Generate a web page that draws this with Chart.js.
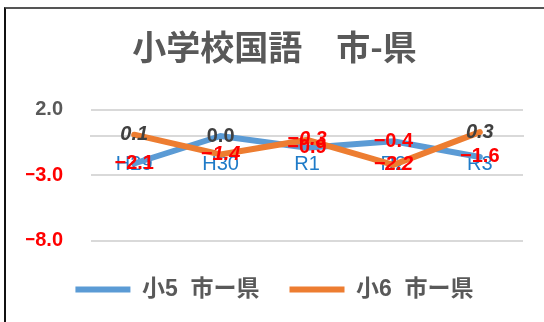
<!DOCTYPE html>
<html>
<head>
<meta charset="utf-8">
<script src="https://cdn.jsdelivr.net/npm/chart.js@4"></script>
<style>
  body { margin: 0; width: 544px; height: 322px; overflow: hidden; background: #fff; position: relative; }
  #wrap { position: absolute; left: 0; top: 0; width: 544px; height: 322px; }
  #frame { position: absolute; left: 4px; top: 7px; width: 700px; height: 400px;
           border-left: 2px solid #111; border-top: 2px solid #555; pointer-events: none; }
</style>
</head>
<body>
<div id="wrap"><canvas id="grafico" width="544" height="322"></canvas></div>
<div id="frame"></div>
<script>
// dados do gráfico
var categories = ['H29', 'H30', 'R1', 'R2', 'R3'];
var grade5 = [-2.1, 0.0, -0.9, -0.4, -1.6];
var grade6 = [0.1, -1.4, -0.3, -2.2, 0.3];
var yTicks = [2, -3, -8];
var seriesNames = ['小5  市ー県', '小6  市ー県'];

var FONT = '"Liberation Sans", "Noto Sans CJK JP", sans-serif';

function fmt(v) {
    return v.toFixed(1).replace('-', '\u2212');
}

// rótulos de valor em cima de cada ponto
var valueLabels = {
    id: 'valueLabels',
    afterDatasetsDraw: function(chart) {
        var ctx = chart.ctx;
        chart.data.datasets.forEach(function(ds, i) {
            var meta = chart.getDatasetMeta(i);
            meta.data.forEach(function(pt, j) {
                var v = ds.data[j];
                ctx.save();
                ctx.font = (i === 1 ? 'italic ' : '') + 'bold 20px ' + FONT;
                ctx.fillStyle = v < 0 ? '#FF0000' : '#404040';
                ctx.textAlign = 'center';
                ctx.textBaseline = 'middle';
                ctx.fillText(fmt(v), pt.x, pt.y);
                ctx.restore();
            });
        });
    }
};

var data = {
    labels: categories,
    datasets: [{
        label: seriesNames[0],
        data: grade5,
        borderColor: '#5B9BD5',
        backgroundColor: '#5B9BD5',
        borderWidth: 6,
        borderCapStyle: 'round',
        pointRadius: 0,
        order: 2
    }, {
        label: seriesNames[1],
        data: grade6,
        borderColor: '#ED7D31',
        backgroundColor: '#ED7D31',
        borderWidth: 6,
        borderCapStyle: 'round',
        pointRadius: 0,
        order: 1
    }]
};

var options = {
    responsive: false,
    animation: false,
    layout: { padding: { left: 26, right: 21, top: 0, bottom: 11 } },
    scales: {
        x: {
            offset: true,
            position: { y: 0 },
            grid: { display: false, drawTicks: false, tickLength: 0 },
            border: { color: '#D9D9D9', width: 2 },
            ticks: { color: '#1F7BC8', font: { family: FONT, size: 20 }, padding: 16, maxRotation: 0 }
        },
        y: {
            min: -8,
            max: 2,
            afterBuildTicks: function(scale) {
                scale.ticks = yTicks.map(function(v) { return { value: v }; });
            },
            afterFit: function(scale) { scale.width = 65; },
            grid: { color: '#D9D9D9', lineWidth: 2, drawTicks: false, tickLength: 0 },
            border: { display: false },
            ticks: {
                padding: 28,
                font: { family: FONT, size: 20, weight: 'bold' },
                color: function(c) { return c.tick.value < 0 ? '#FF0000' : '#595959'; },
                callback: function(v) { return fmt(v); }
            }
        }
    },
    plugins: {
        title: {
            display: true,
            text: '小学校国語　市-県',
            color: '#595959',
            font: { family: '"Noto Sans CJK JP", sans-serif', size: 34, weight: 'bold' },
            padding: { top: 27, bottom: 42 }
        },
        legend: {
            position: 'bottom',
            // título vazio só para empurrar os itens para baixo
            title: { display: true, text: '', font: { size: 1 }, padding: { top: 6, bottom: 0 } },
            labels: {
                usePointStyle: true,
                pointStyle: 'line',
                pointStyleWidth: 55,
                padding: 30,
                color: '#595959',
                font: { family: FONT, size: 23, weight: 'bold' },
                sort: function(a, b) { return a.datasetIndex - b.datasetIndex; }
            }
        },
        tooltip: { enabled: false }
    }
};

var ctx = document.querySelector('#grafico');
var lineChart = new Chart(ctx, {
    type: 'line',
    data: data,
    options: options,
    plugins: [valueLabels]
});
</script>
</body>
</html>
